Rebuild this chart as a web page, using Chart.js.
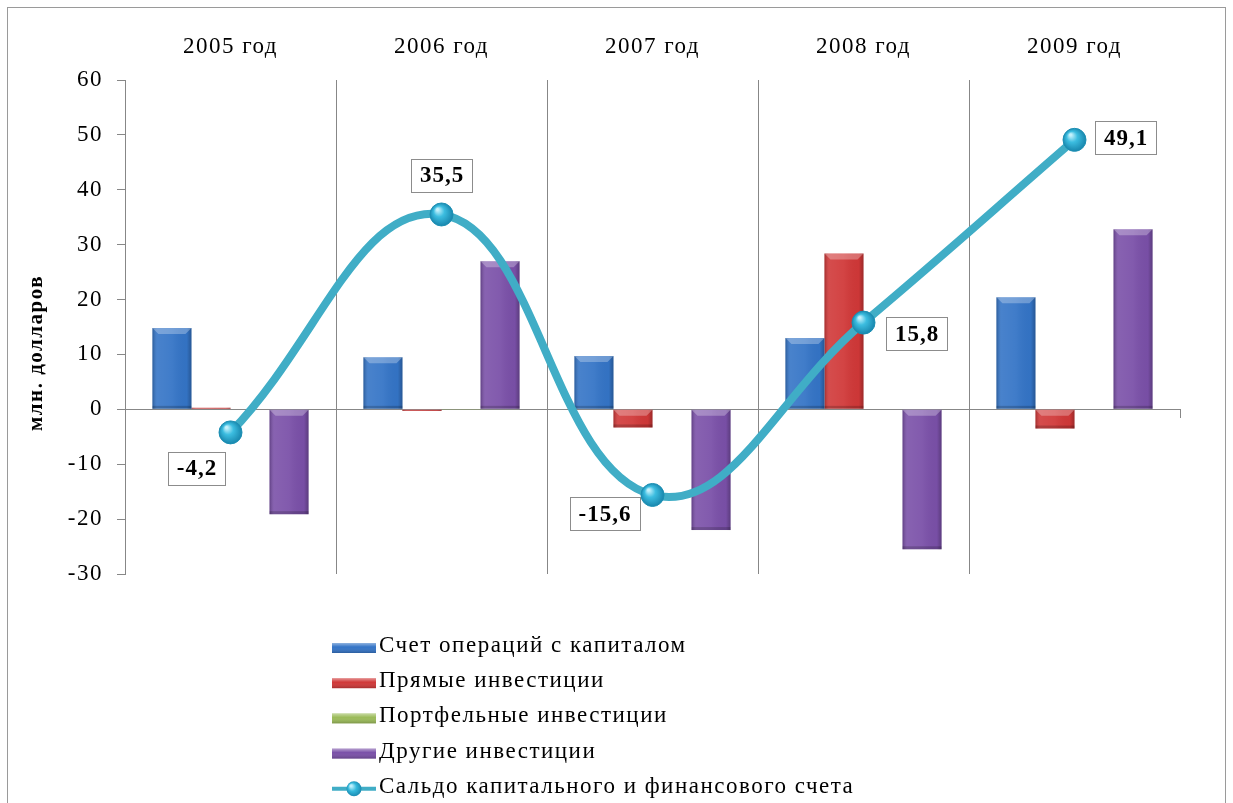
<!DOCTYPE html>
<html>
<head>
<meta charset="utf-8">
<script src="https://cdn.jsdelivr.net/npm/chart.js@4.4.1/dist/chart.umd.min.js"></script>
<style>
  html, body { margin: 0; padding: 0; background: #fff; }
  #wrap { width: 1233px; height: 803px; position: relative; }
</style>
</head>
<body>
<div id="wrap"><canvas id="chart"></canvas></div>
<script>
const years = ["2005 год", "2006 год", "2007 год", "2008 год", "2009 год"];
const seriesNames = [
    "Счет операций с капиталом",
    "Прямые инвестиции",
    "Портфельные инвестиции",
    "Другие инвестиции",
    "Сальдо капитального и финансового счета"
];
const capitalAccount = [14.8, 9.5, 9.7, 13.0, 20.4];
const directInvest = [0.3, -0.3, -3.3, 28.4, -3.5];
const portfolioInvest = [0, -0.1, 0, 0, 0.1];
const otherInvest = [-19.1, 27.0, -22.0, -25.5, 32.8];
const balance = [-4.2, 35.5, -15.6, 15.8, 49.1];
const yTicks = [60, 50, 40, 30, 20, 10, 0, -10, -20, -30];
const yTitle = "млн. долларов";

const SERIF = "'Liberation Serif', 'Times New Roman', serif";
const AXIS_GREY = "#878787";
const barColors = ["#3474C6", "#D03838", "#9BBB59", "#7A50A8"];
const lineColor = "#40ADC6";
const SPACING = "1.5px";

// where each value box sits relative to its point
const labelOffsets = [[-34, 36], [0, -39], [-48, 19], [53, 11], [51, -2]];

const fmt = v => v.toFixed(1).replace(".", ",");

// the original text is a bit wider than Liberation Serif, so spread it out a little
const wideText = {
    id: "wideText",
    beforeUpdate(chart) { chart.ctx.letterSpacing = SPACING; },
    beforeDraw(chart) { chart.ctx.letterSpacing = SPACING; },
};

// Excel-like bevel on the bars
const bevelPlugin = {
    id: "bevel",
    afterDatasetDraw(chart, args) {
        const meta = args.meta;
        if (meta.type !== "bar") return;
        const ctx = chart.ctx;
        ctx.save();
        meta.data.forEach(el => {
            const {x, y, base, width} = el.getProps(["x", "y", "base", "width"], true);
            const left = x - width / 2;
            const top = Math.min(y, base);
            const h = Math.abs(base - y);
            if (!(h >= 1)) return;
            const g = ctx.createLinearGradient(left, 0, left + width, 0);
            g.addColorStop(0, "rgba(0,0,0,0.22)");
            g.addColorStop(0.12, "rgba(255,255,255,0.10)");
            g.addColorStop(0.5, "rgba(255,255,255,0.06)");
            g.addColorStop(0.88, "rgba(0,0,0,0.02)");
            g.addColorStop(1, "rgba(0,0,0,0.25)");
            ctx.fillStyle = g;
            ctx.fillRect(left, top, width, h);
            const bh = Math.min(6, h / 2);
            ctx.fillStyle = "rgba(255,255,255,0.28)";
            ctx.beginPath();
            ctx.moveTo(left, top);
            ctx.lineTo(left + width, top);
            ctx.lineTo(left + width - bh, top + bh);
            ctx.lineTo(left + bh, top + bh);
            ctx.closePath();
            ctx.fill();
            ctx.fillStyle = "rgba(0,0,0,0.18)";
            ctx.fillRect(left, top + h - Math.min(3, h / 3), width, Math.min(3, h / 3));
        });
        ctx.restore();
    }
};

// boxed value labels on the balance line
const valueBoxes = {
    id: "valueBoxes",
    afterDatasetsDraw(chart) {
        const idx = chart.data.datasets.findIndex(d => d.type === "line");
        const meta = chart.getDatasetMeta(idx);
        const ctx = chart.ctx;
        ctx.save();
        ctx.font = "bold 23px " + SERIF;
        ctx.letterSpacing = "1px";
        ctx.textAlign = "center";
        ctx.textBaseline = "middle";
        meta.data.forEach((pt, i) => {
            const txt = fmt(chart.data.datasets[idx].data[i]);
            const [dx, dy] = labelOffsets[i];
            const cx = pt.x + dx, cy = pt.y + dy;
            const w = ctx.measureText(txt).width + 17;
            const h = 33;
            ctx.fillStyle = "#fff";
            ctx.fillRect(cx - w / 2, cy - h / 2, w, h);
            ctx.strokeStyle = "#8c8c8c";
            ctx.lineWidth = 1;
            ctx.strokeRect(Math.round(cx - w / 2) + 0.5, Math.round(cy - h / 2) + 0.5, Math.round(w), h);
            ctx.fillStyle = "#000";
            ctx.fillText(txt, cx + 0.5, cy + 1);
        });
        ctx.restore();
    }
};

// vertical legend under the plot, the y title and the outer frame
const frameAndLegend = {
    id: "frameAndLegend",
    afterDraw(chart) {
        const ctx = chart.ctx;
        const area = chart.chartArea;
        ctx.save();
        ctx.letterSpacing = SPACING;
        ctx.strokeStyle = "#9a9a9a";
        ctx.lineWidth = 1;
        ctx.strokeRect(7.5, 7.5, chart.width - 15, chart.height + 10);

        // y axis title, sitting a little below the middle of the axis like in the original
        ctx.save();
        ctx.translate(37, (area.top + area.bottom) / 2 + 26);
        ctx.rotate(-Math.PI / 2);
        ctx.font = "bold 21px " + SERIF;
        ctx.fillStyle = "#000";
        ctx.textAlign = "center";
        ctx.textBaseline = "middle";
        ctx.fillText(yTitle, 0, 0);
        ctx.restore();

        const x0 = 332;
        const y0 = area.bottom + 72;
        const step = 35.2;
        ctx.font = "23px " + SERIF;
        ctx.textBaseline = "middle";
        ctx.textAlign = "left";
        chart.data.datasets.forEach((ds, i) => {
            const cy = y0 + i * step;
            if (ds.type === "line") {
                ctx.strokeStyle = lineColor;
                ctx.lineWidth = 4;
                ctx.beginPath();
                ctx.moveTo(x0, cy + 2);
                ctx.lineTo(x0 + 44, cy + 2);
                ctx.stroke();
                const g = ctx.createRadialGradient(x0 + 19, cy - 1, 1, x0 + 22, cy + 2, 8);
                g.addColorStop(0, "#BDEFFB");
                g.addColorStop(0.45, "#35B9DC");
                g.addColorStop(1, "#1886AD");
                ctx.fillStyle = g;
                ctx.beginPath();
                ctx.arc(x0 + 22, cy + 2, 7.5, 0, Math.PI * 2);
                ctx.fill();
            } else {
                const g = ctx.createLinearGradient(0, cy - 3, 0, cy + 7);
                g.addColorStop(0, "rgba(255,255,255,0.45)");
                g.addColorStop(0.4, "rgba(255,255,255,0)");
                g.addColorStop(1, "rgba(0,0,0,0.2)");
                ctx.fillStyle = ds.backgroundColor;
                ctx.fillRect(x0, cy - 3, 44, 10);
                ctx.fillStyle = g;
                ctx.fillRect(x0, cy - 3, 44, 10);
            }
            ctx.fillStyle = "#000";
            ctx.fillText(ds.label, x0 + 47, cy);
        });
        ctx.restore();
    }
};

function pointFill(c) {
    const chart = c.chart;
    const xs = chart.scales.x, ys = chart.scales.y;
    if (!xs || !ys || c.raw === undefined) return "#2FB0D6";
    const px = xs.getPixelForValue(c.dataIndex);
    const py = ys.getPixelForValue(c.raw);
    if (!Number.isFinite(px) || !Number.isFinite(py)) return "#2FB0D6";
    const g = chart.ctx.createRadialGradient(px - 4, py - 5, 1, px, py, 12);
    g.addColorStop(0, "#C4F1FC");
    g.addColorStop(0.4, "#3CBDE0");
    g.addColorStop(1, "#1683AA");
    return g;
}

const barSet = (label, data, color) => ({
    type: "bar",
    label: label,
    data: data,
    backgroundColor: color,
    borderWidth: 0,
    xAxisID: "x",
    yAxisID: "y",
    order: 2,
    categoryPercentage: 0.74,
    barPercentage: 1.0,
});

new Chart(document.getElementById("chart"), {
    data: {
        labels: years,
        datasets: [
            barSet(seriesNames[0], capitalAccount, barColors[0]),
            barSet(seriesNames[1], directInvest, barColors[1]),
            barSet(seriesNames[2], portfolioInvest, barColors[2]),
            barSet(seriesNames[3], otherInvest, barColors[3]),
            {
                type: "line",
                label: seriesNames[4],
                data: balance,
                xAxisID: "x",
                yAxisID: "y",
                order: 0,
                borderColor: lineColor,
                borderWidth: 8,
                tension: 0.42,
                pointRadius: 11.5,
                pointBackgroundColor: pointFill,
                pointBorderColor: "#1C8FB3",
                pointBorderWidth: 1,
                fill: false,
            },
        ],
    },
    options: {
        responsive: true,
        maintainAspectRatio: false,
        animation: false,
        layout: {
            padding: {left: 0, top: 0, right: 53, bottom: 229},
        },
        plugins: {
            legend: {display: false},
            tooltip: {enabled: false},
        },
        scales: {
            x: {
                type: "category",
                position: "top",
                offset: true,
                afterFit: s => { s.height = 80; },
                grid: {
                    offset: true,
                    drawTicks: false,
                    // no line on the left edge (y axis) or the right edge
                    color: c => (c.index === undefined || c.index === 0 || c.index >= years.length) ? "transparent" : AXIS_GREY,
                    lineWidth: 1,
                },
                border: {display: false},
                ticks: {
                    color: "#000",
                    padding: 19,
                    maxRotation: 0,
                    font: {family: SERIF, size: 23},
                },
            },
            xZero: {
                type: "category",
                axis: "x",
                labels: years,
                position: {y: 0},
                offset: true,
                grid: {
                    offset: true,
                    drawOnChartArea: false,
                    drawTicks: true,
                    tickLength: 8,
                    tickColor: AXIS_GREY,
                },
                border: {display: true, color: AXIS_GREY, width: 1},
                ticks: {display: false},
            },
            y: {
                type: "linear",
                position: "left",
                min: -30,
                max: 60,
                afterFit: s => { s.width = 125; },
                afterBuildTicks: s => { s.ticks = yTicks.map(v => ({value: v})); },
                grid: {
                    drawOnChartArea: false,
                    drawTicks: true,
                    tickLength: 8,
                    tickColor: AXIS_GREY,
                },
                border: {display: true, color: AXIS_GREY, width: 1},
                ticks: {
                    color: "#000",
                    padding: 14,
                    font: {family: SERIF, size: 23},
                    callback: v => String(v),
                },
                title: {display: false},
            },
        },
    },
    plugins: [wideText, bevelPlugin, valueBoxes, frameAndLegend],
});
</script>
</body>
</html>
